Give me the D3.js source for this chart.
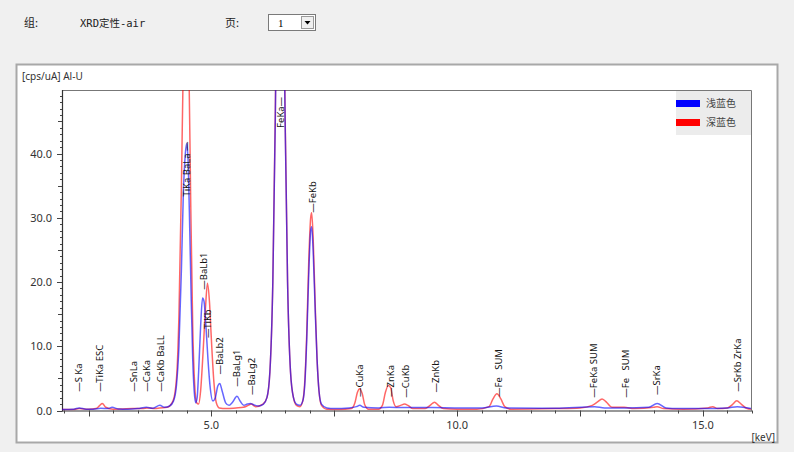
<!DOCTYPE html>
<html><head><meta charset="utf-8">
<script src="https://cdn.jsdelivr.net/npm/d3@7"></script>
<style>
html,body{margin:0;padding:0;background:#f0f0f0;}
svg{display:block;}
</style></head>
<body>
<svg id="c" width="794" height="452"></svg>
<script>
// ---- data ----
const headerGroupLabel = "组:";
const headerGroupValue = "XRD定性-air";
const headerPageLabel = "页:";
const headerPageValue = "1";
const chartTitle = "[cps/uA] Al-U";
const xUnit = "[keV]";
const seriesNames = ["浅蓝色", "深蓝色"];
const seriesColors = ["#0000ff", "#ff0000"];
const xDomain = [1.96, 15.98];
const yDomain = [0, 49.9];
const xTickLabels = [5, 10, 15];
const yTickLabels = [0, 10, 20, 30, 40];

// 浅蓝色 (blue) spectrum: [keV, cps/uA]
const blueSpectrum = [
[1.96,0.15],[2.2,0.2],[2.31,0.4],[2.45,0.2],[2.6,0.2],[2.75,0.35],[2.9,0.3],[2.98,0.5],[3.1,0.25],[3.3,0.2],
[3.5,0.3],[3.68,0.5],[3.8,0.35],[3.95,0.8],[4.05,0.5],[4.15,0.7],[4.23,1.5],[4.29,4],[4.34,10],[4.39,22],
[4.43,34],[4.47,40],[4.50,41.6],[4.53,38],[4.56,28],[4.59,17],[4.62,8],[4.65,3],[4.68,1.2],[4.71,2],
[4.74,6],[4.78,13],[4.82,17.5],[4.85,17],[4.89,13],[4.93,8],[4.97,4],[5.03,1.5],[5.08,2],[5.13,3.8],
[5.17,4.2],[5.22,3],[5.29,1.2],[5.36,0.8],[5.43,1.3],[5.52,2.2],[5.59,1.4],[5.66,0.8],[5.73,1.0],[5.79,1.1],
[5.86,0.9],[5.96,0.7],[6.06,1.0],[6.13,2],[6.19,6],[6.25,20],[6.30,45],[6.35,80],[6.40,100],[6.45,80],
[6.50,45],[6.55,20],[6.61,6],[6.67,2],[6.73,1],[6.80,0.8],[6.86,1.5],[6.90,4],[6.94,11],[6.98,21],
[7.02,28],[7.04,28.6],[7.07,25],[7.11,16],[7.15,8],[7.19,3],[7.24,1],[7.35,0.4],[7.5,0.3],[7.8,0.4],
[7.95,0.6],[8.02,0.8],[8.1,0.5],[8.4,0.4],[8.62,0.5],[8.9,0.45],[9.5,0.45],[10.0,0.4],[10.5,0.4],[10.8,0.7],
[11.0,0.4],[12.0,0.35],[12.8,0.6],[13.0,0.4],[13.4,0.4],[13.9,0.5],[14.07,1.1],[14.25,0.4],[14.5,0.3],[15.0,0.3],
[15.5,0.4],[15.7,0.6],[15.98,0.3]
];

// 深蓝色 (red) spectrum: [keV, cps/uA]
const redSpectrum = [
[1.96,0.15],[2.2,0.15],[2.31,0.3],[2.5,0.2],[2.65,0.3],[2.73,0.8],[2.78,1.1],[2.85,0.5],[3.0,0.2],[3.2,0.25],
[3.4,0.3],[3.6,0.3],[3.7,0.4],[3.85,0.3],[3.95,0.4],[4.1,0.5],[4.22,1.5],[4.29,5],[4.34,15],[4.39,35],
[4.43,55],[4.49,66],[4.54,55],[4.58,32],[4.62,13],[4.66,4],[4.70,1.2],[4.74,1.0],[4.78,3],[4.83,9],
[4.88,16],[4.92,19.8],[4.96,17],[5.00,11],[5.05,4.5],[5.10,1.2],[5.16,0.4],[5.3,0.3],[5.5,0.4],[5.65,0.5],
[5.75,0.8],[5.81,1.0],[5.9,0.6],[6.05,1.0],[6.13,2],[6.19,6],[6.25,20],[6.30,46],[6.35,82],[6.40,102],
[6.45,82],[6.50,46],[6.55,20],[6.61,6],[6.67,2],[6.73,0.8],[6.80,0.6],[6.86,1.5],[6.90,4.5],[6.94,12],
[6.98,23],[7.02,30],[7.04,30.8],[7.07,27],[7.11,17],[7.15,8],[7.19,3],[7.24,0.8],[7.35,0.2],[7.6,0.15],
[7.85,0.3],[7.92,1.2],[7.97,2.8],[8.02,3.4],[8.07,2.6],[8.12,0.9],[8.2,0.2],[8.4,0.2],[8.48,0.8],[8.54,2.8],
[8.6,3.9],[8.65,3.5],[8.7,1.5],[8.76,0.6],[8.85,0.8],[8.93,1.0],[9.0,0.8],[9.1,0.3],[9.35,0.3],[9.45,0.8],
[9.54,1.3],[9.62,0.8],[9.72,0.3],[10.0,0.2],[10.4,0.2],[10.65,0.6],[10.73,1.8],[10.81,2.6],[10.89,1.8],[10.97,0.6],
[11.1,0.2],[12.0,0.3],[12.5,0.4],[12.75,0.8],[12.85,1.3],[12.95,1.8],[13.05,1.2],[13.15,0.5],[13.4,0.5],[13.6,0.3],
[14.0,0.5],[14.07,0.6],[14.2,0.3],[14.6,0.2],[15.1,0.4],[15.2,0.6],[15.3,0.3],[15.5,0.4],[15.6,0.9],[15.69,1.5],
[15.78,1.0],[15.9,0.3],[15.98,0.2]
];

// peak labels
const peakNames = ["—S Ka","—TiKa ESC","—SnLa","—CaKa","—CaKb BaLL","TiKa BaLa —","—BaLb1","—TiKb","—BaLb2","—BaLg1",
  "—BaLg2","FeKa—","—FeKb","—CuKa","—ZnKa","—CuKb","—ZnKb","—Fe   SUM","—FeKa SUM","—Fe   SUM","—SrKa","—SrKb ZrKa"];
const peakEnergies = [2.29,2.73,3.41,3.67,3.96,4.50,4.83,4.93,5.17,5.52,
  5.82,6.40,7.05,8.02,8.64,8.95,9.56,10.84,12.77,13.42,14.06,15.71];
const peakLabelValues = [2.9,2.9,2.9,2.9,2.9,33.3,18.8,11.3,5.6,3.7,
  2.4,44.0,30.8,2.1,2.1,2.0,2.8,2.1,2.0,2.0,2.4,2.9];

// ---- drawing ----
const svg = d3.select("#c");
const font = "'Noto Sans', 'DejaVu Sans', sans-serif";
const monoFont = "'DejaVu Sans Mono', 'Noto Sans CJK SC', monospace";

// header
svg.append("text").attr("x",24).attr("y",27).attr("font-family","'Noto Sans CJK SC'").attr("font-size",11).attr("fill","#222").text(headerGroupLabel);
svg.append("text").attr("x",80).attr("y",27).attr("font-family",monoFont).attr("font-size",10.5).attr("fill","#222").text(headerGroupValue);
svg.append("text").attr("x",225).attr("y",27).attr("font-family","'Noto Sans CJK SC'").attr("font-size",11).attr("fill","#222").text(headerPageLabel);
const sel = svg.append("g");
sel.append("rect").attr("x",268.5).attr("y",14.5).attr("width",47).attr("height",16).attr("fill","#fff").attr("stroke","#7a7a7a");
sel.append("text").attr("x",278).attr("y",27).attr("font-family","'Liberation Serif', serif").attr("font-size",11).attr("fill","#000").text(headerPageValue);
sel.append("rect").attr("x",301.5).attr("y",16.5).attr("width",12).attr("height",12).attr("fill","#f0f0f0").attr("stroke","#9a9a9a");
sel.append("path").attr("d","M304.5,21 L310.5,21 L307.5,24.5 Z").attr("fill","#000");

// chart panel
svg.append("rect").attr("x",16.5).attr("y",64.5).attr("width",761).attr("height",378).attr("fill","#fff").attr("stroke","#a8a8a8").attr("stroke-width",2);
svg.append("text").attr("x",22).attr("y",80).attr("font-family",font).attr("font-size",10).attr("fill","#333").text(chartTitle);

const L=62, R=751, T=90, B=410.5;
const x = d3.scaleLinear().domain(xDomain).range([L,R]);
const y = d3.scaleLinear().domain(yDomain).range([B,T]);

svg.append("defs").append("clipPath").attr("id","clip").append("rect").attr("x",L).attr("y",T).attr("width",R-L).attr("height",B-T);

// frame
svg.append("path").attr("d",`M${L},${T+0.5} H${R+0.5} V${B}`).attr("fill","none").attr("stroke","#777").attr("stroke-width",1);

// Y axis
const yMinor = d3.range(0, 50, 1);
const yAx = svg.append("g").attr("transform",`translate(${L},0)`);
yAx.selectAll("line.t").data(yMinor).join("line")
  .attr("x1", d => d%10===0 ? -5 : (d%5===0 ? -4 : -2)).attr("x2",0)
  .attr("y1", d => Math.round(y(d))+0.5).attr("y2", d => Math.round(y(d))+0.5)
  .attr("stroke","#444").attr("stroke-width",1);
yAx.append("line").attr("x1",0.5).attr("x2",0.5).attr("y1",T).attr("y2",B+1).attr("stroke","#333").attr("stroke-width",1.2);
yAx.selectAll("text").data(yTickLabels).join("text")
  .attr("x",-10).attr("y", d => y(d)+4).attr("text-anchor","end")
  .attr("font-family",font).attr("font-size",11).attr("fill","#333")
  .text(d => d3.format(".1f")(d));

// X axis
const xMinor = d3.range(2, 16.01, 0.5);
const xAx = svg.append("g").attr("transform",`translate(0,${B})`);
xAx.append("line").attr("x1",L).attr("x2",R+1).attr("y1",0.5).attr("y2",0.5).attr("stroke","#333").attr("stroke-width",1.2);
xAx.selectAll("line.t").data(xMinor).join("line")
  .attr("x1", d => Math.round(x(d))+0.5).attr("x2", d => Math.round(x(d))+0.5)
  .attr("y1",0).attr("y2", d => (Math.abs(d/2.5 - Math.round(d/2.5))<1e-6) ? 6 : 3)
  .attr("stroke","#444").attr("stroke-width",1);
xAx.selectAll("text").data(xTickLabels).join("text")
  .attr("x", d => x(d)).attr("y",18).attr("text-anchor","middle")
  .attr("font-family",font).attr("font-size",11).attr("fill","#333")
  .text(d => d3.format(".1f")(d));
svg.append("text").attr("x",775).attr("y",441).attr("text-anchor","end").attr("font-family",font).attr("font-size",10).attr("fill","#333").text(xUnit);

// spectra
const line = d3.line().x(d => x(d[0])).y(d => y(d[1])).curve(d3.curveMonotoneX);
const plot = svg.append("g").attr("clip-path","url(#clip)");
plot.append("path").datum(redSpectrum).attr("d",line).attr("fill","none").attr("stroke",seriesColors[1]).attr("stroke-opacity",0.6).attr("stroke-width",1.5);
plot.append("path").datum(blueSpectrum).attr("d",line).attr("fill","none").attr("stroke",seriesColors[0]).attr("stroke-opacity",0.6).attr("stroke-width",1.5);

// peak labels
svg.append("g").selectAll("text").data(peakNames).join("text")
  .attr("transform",(d,i) => `translate(${x(peakEnergies[i])+3.5},${y(peakLabelValues[i])}) rotate(-90)`)
  .attr("font-family",font).attr("font-size",9.5).attr("fill","#111")
  .style("white-space","pre")
  .text(d => d);

// legend
const lg = svg.append("g");
lg.append("rect").attr("x",676).attr("y",91).attr("width",75).attr("height",44).attr("fill","#ececec");
seriesNames.forEach((n,i) => {
  lg.append("rect").attr("x",676).attr("y",100+i*19).attr("width",24).attr("height",7).attr("fill",seriesColors[i]);
  lg.append("text").attr("x",706).attr("y",107+i*19).attr("font-family","'Noto Sans CJK SC'").attr("font-size",10).attr("fill","#444").text(n);
});
</script>
</body></html>
